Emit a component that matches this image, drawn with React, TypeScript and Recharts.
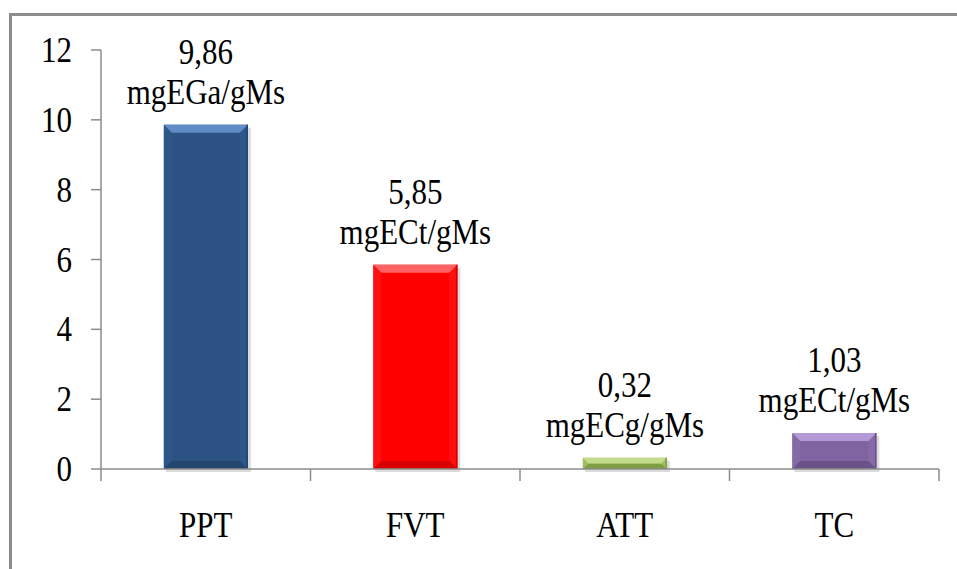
import React from 'react';
import { ComposedChart, Bar, XAxis, YAxis, LabelList, Cell } from 'recharts';

const categories = ['PPT', 'FVT', 'ATT', 'TC'];
const values = [9.86, 5.85, 0.32, 1.03];
const valueLabels = ['9,86', '5,85', '0,32', '1,03'];
const unitLabels = ['mgEGa/gMs', 'mgECt/gMs', 'mgECg/gMs', 'mgECt/gMs'];
const yTicks = [0, 2, 4, 6, 8, 10, 12];

const barColors = ['#2b5283', '#fe0000', '#9bbb59', '#8064a2'];
const bevels: Record<string, { light: string; side: string; dark: string }> = {
  '#2b5283': { light: '#5f8cc4', side: '#2e5789', dark: '#23466f' },
  '#fe0000': { light: '#ff6262', side: '#ff1010', dark: '#d80000' },
  '#9bbb59': { light: '#c3dc8c', side: '#a0c060', dark: '#7f9d44' },
  '#8064a2': { light: '#b39ad6', side: '#866aa8', dark: '#6a5288' },
};

const W = 957;
const H = 569;
const LEFT = 101;
const RIGHT = 939;
const BAND = (RIGHT - LEFT) / categories.length;
const FONT = '"Liberation Serif", "Times New Roman", serif';
const FS = 31;
const SY = 1.17;
const AXIS = '#8c8c8c';

const data = categories.map((name, i) => ({
  name,
  value: values[i],
  valueLabel: valueLabels[i],
  unit: unitLabels[i],
}));

const BevelBar = (props: any) => {
  const { x, y, width: w, height: h, fill } = props;
  if (!h || h <= 0) return null;
  const c = bevels[fill] || { light: fill, side: fill, dark: fill };
  const b = Math.min(8, h / 2, w / 2);
  return (
    <g>
      <rect x={x + 2} y={y + 3} width={w + 1} height={h} fill="rgba(0,0,0,0.14)" />
      <rect x={x} y={y} width={w} height={h} fill={fill} />
      <polygon points={`${x},${y} ${x + b},${y + b} ${x + b},${y + h - b} ${x},${y + h}`} fill={c.side} />
      <polygon points={`${x + w},${y} ${x + w - b},${y + b} ${x + w - b},${y + h - b} ${x + w},${y + h}`} fill={c.side} />
      <polygon points={`${x},${y + h} ${x + w},${y + h} ${x + w - b},${y + h - b} ${x + b},${y + h - b}`} fill={c.dark} />
      <polygon points={`${x},${y} ${x + w},${y} ${x + w - b},${y + b} ${x + b},${y + b}`} fill={c.light} />
      <line x1={x + w - 0.75} x2={x + w - 0.75} y1={y} y2={y + h} stroke={c.dark} strokeWidth={1.5} />
    </g>
  );
};

const YTick = (props: any) => {
  const { x, y, payload } = props;
  return (
    <text
      transform={`translate(${x},${y + 12}) scale(1,${SY})`}
      textAnchor="end"
      fontFamily={FONT}
      fontSize={FS}
      fill="#000"
    >
      {payload.value}
    </text>
  );
};

const XTick = (props: any) => {
  const { x, y, payload, index } = props;
  const left = x - BAND / 2;
  return (
    <g>
      <line x1={left} x2={left} y1={y} y2={y + 12} stroke={AXIS} strokeWidth={1.5} />
      {index === categories.length - 1 && (
        <line x1={x + BAND / 2} x2={x + BAND / 2} y1={y} y2={y + 12} stroke={AXIS} strokeWidth={1.5} />
      )}
      <text
        transform={`translate(${x},${y + 68}) scale(1,${SY})`}
        textAnchor="middle"
        fontFamily={FONT}
        fontSize={FS}
        fill="#000"
      >
        {payload.value}
      </text>
    </g>
  );
};

const makeLabel = (dy: number) => (props: any) => {
  const { x, y, width, value } = props;
  return (
    <text
      transform={`translate(${x + width / 2},${y - dy}) scale(1,${SY})`}
      textAnchor="middle"
      fontFamily={FONT}
      fontSize={FS}
      fill="#000"
    >
      {value}
    </text>
  );
};

export default function App() {
  return (
    <div style={{ position: 'absolute', left: 0, top: 0, width: W, height: H, background: '#fff' }}>
      <div
        style={{
          position: 'absolute',
          left: 9,
          top: 13,
          width: W - 9,
          height: H - 13,
          borderTop: `3px solid ${AXIS}`,
          borderLeft: `3px solid ${AXIS}`,
          boxSizing: 'border-box',
        }}
      />
      <div style={{ position: 'absolute', left: 0, top: 0 }}>
        <ComposedChart
          width={W}
          height={H}
          data={data}
          margin={{ top: 50, right: W - RIGHT, bottom: 30, left: 0 }}
          barCategoryGap="30%"
        >
          <XAxis
            dataKey="name"
            height={70}
            interval={0}
            axisLine={{ stroke: AXIS, strokeWidth: 1.5 }}
            tickLine={false}
            tickSize={0}
            tickMargin={0}
            tick={<XTick />}
          />
          <YAxis
            width={LEFT}
            domain={[0, 12]}
            ticks={yTicks}
            interval={0}
            axisLine={{ stroke: AXIS, strokeWidth: 1.5 }}
            tickLine={{ stroke: AXIS, strokeWidth: 1.5 }}
            tickSize={10}
            tickMargin={19}
            tick={<YTick />}
          />
          <Bar dataKey="value" shape={<BevelBar />} isAnimationActive={false}>
            {data.map((d, i) => (
              <Cell key={d.name} fill={barColors[i]} />
            ))}
            <LabelList dataKey="valueLabel" content={makeLabel(61)} />
            <LabelList dataKey="unit" content={makeLabel(21)} />
          </Bar>
        </ComposedChart>
      </div>
    </div>
  );
}
